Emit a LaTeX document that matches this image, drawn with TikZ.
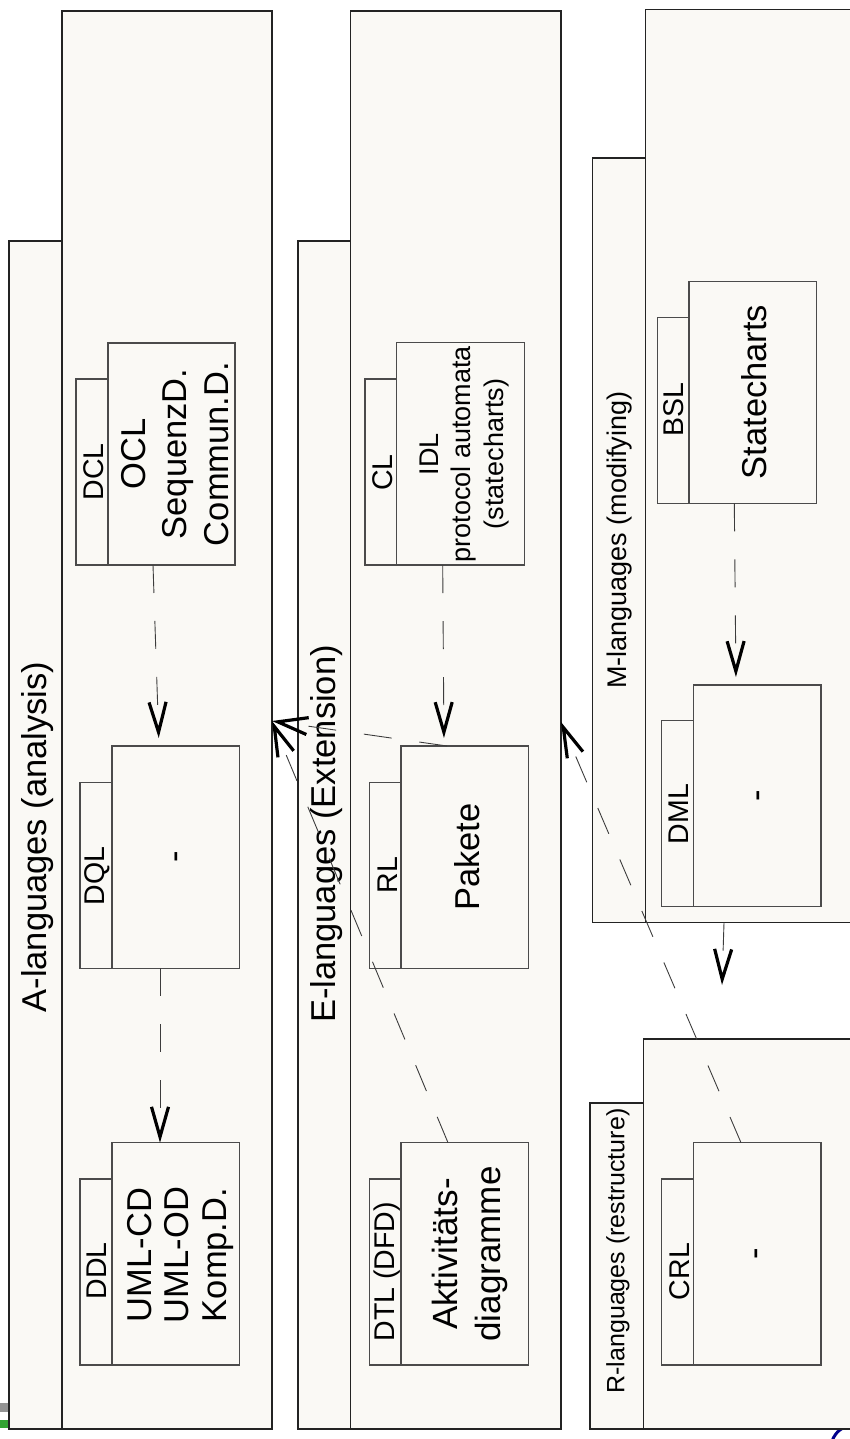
\documentclass[tikz,border=0pt]{standalone}
\usepackage{fontspec}
\setmainfont{Liberation Sans}
\usetikzlibrary{arrows.meta,calc}
\definecolor{pfill}{RGB}{250,249,245}
\definecolor{pline}{RGB}{35,35,35}
\definecolor{bline}{RGB}{75,75,75}
\definecolor{dline}{RGB}{60,60,60}
\begin{document}
\begin{tikzpicture}[x=1pt,y=-1pt,
  pkg/.style={draw=pline, fill=pfill, line width=1.3pt, inner sep=0pt, outer sep=0pt, anchor=north west},
  bx/.style={draw=bline, fill=pfill, line width=1.1pt, inner sep=0pt, outer sep=0pt, anchor=north west},
  ttl/.style={rotate=90, inner sep=0pt, font=\fontsize{34.5}{40}\selectfont},
  tl/.style={rotate=90, inner sep=0pt, font=\fontsize{28.5}{32}\selectfont},
  ct/.style={rotate=90, inner sep=0pt, align=center, font=\fontsize{34.5}{40}\selectfont},
  dep/.style={draw=dline, line width=0.9pt, dash pattern=on 28pt off 28pt,
    -{Straight Barb[length=30pt,width=17pt,line width=3.2pt,color=black]}}
]
\path[use as bounding box] (0,0) rectangle (850,1439);
\clip (0,0) rectangle (850,1439);

% small marks at the corners
\fill[gray!85] (0,1403) rectangle (8,1412);
\fill[green!55!black!80] (0,1420) rectangle (8,1428);
\draw[blue!55!black, line width=3pt] (832,1441) .. controls (836,1431) and (842,1427) .. (852,1425);

% Package A
\node[pkg, minimum width=53pt, minimum height=1188pt] (atab) at (9,241) {};
\node[pkg, minimum width=210pt, minimum height=1418pt] (abody) at (62,11) {};
\node[ttl] (atitle) at (38,837) {A-languages (analysis)};

% Package E
\node[pkg, minimum width=52.7pt, minimum height=1188pt] (etab) at (298,241) {};
\node[pkg, minimum width=210.3pt, minimum height=1418pt] (ebody) at (350.7,11) {};
\node[ttl] (etitle) at (327,834) {E-languages (Extension)};

% Package M
\node[pkg, minimum width=53pt, minimum height=764.7pt] (mtab) at (592.3,158) {};
\node[pkg, minimum width=260pt, minimum height=913.4pt] (mbody) at (645.3,9.3) {};
\node[ttl, font=\fontsize{27}{32}\selectfont] (mtitle) at (620,540) {M-languages (modifying)};

% Package R
\node[pkg, minimum width=53.3pt, minimum height=326pt] (rtab) at (590,1103) {};
\node[pkg, minimum width=260pt, minimum height=390pt] (rbody) at (643.3,1039) {};
\node[ttl, font=\fontsize{25}{30}\selectfont] (rtitle) at (618,1251) {R-languages (restructure)};

% A elements
\node[bx, minimum width=32pt, minimum height=186pt] (dclt) at (76,379) {};
\node[bx, minimum width=127pt, minimum height=222pt] (dclm) at (108,343) {};
\node[tl] (dcll) at (94,472) {DCL};
\node[ct, font=\fontsize{34.5}{41.5}\selectfont] (dclc) at (175,454) {OCL\\SequenzD.\\Commun.D.};

\node[bx, minimum width=32pt, minimum height=186pt] (dqlt) at (80,782.3) {};
\node[bx, minimum width=127.3pt, minimum height=222.3pt] (dqlm) at (112,746) {};
\node[tl] (dqll) at (97,876) {DQL};
\node[ct] (dqlc) at (180.5,857) {-};

\node[bx, minimum width=32pt, minimum height=186pt] (ddlt) at (80,1179) {};
\node[bx, minimum width=127.3pt, minimum height=222.3pt] (ddlm) at (112,1142.7) {};
\node[tl] (ddll) at (97,1271) {DDL};
\node[ct, font=\fontsize{34.5}{37.5}\selectfont] (ddlc) at (180.5,1255) {UML-CD\\UML-OD\\Komp.D.};

% E elements
\node[bx, minimum width=31.7pt, minimum height=186pt] (clt) at (365,379) {};
\node[bx, minimum width=127.6pt, minimum height=222.3pt] (clm) at (396.7,342.7) {};
\node[tl] (cll) at (383,472.5) {CL};
\node[ct, font=\fontsize{27}{32.5}\selectfont] (clc) at (464,454) {IDL\\protocol automata\\(statecharts)};

\node[bx, minimum width=31.7pt, minimum height=186pt] (rlt) at (369.3,782.3) {};
\node[bx, minimum width=127.7pt, minimum height=222.3pt] (rlm) at (401,746) {};
\node[tl] (rll) at (387.5,875) {RL};
\node[ct] (rlc) at (467.5,857) {Pakete};

\node[bx, minimum width=31.7pt, minimum height=186pt] (dtlt) at (369.3,1179) {};
\node[bx, minimum width=127.7pt, minimum height=222.3pt] (dtlm) at (401,1142.7) {};
\node[tl] (dtll) at (387,1271.7) {DTL (DFD)};
\node[ct, font=\fontsize{35}{43}\selectfont] (dtlc) at (470,1254) {Aktivitäts-\\diagramme};

% M elements
\node[bx, minimum width=31.7pt, minimum height=185.6pt] (bslt) at (657.3,317.7) {};
\node[bx, minimum width=127.7pt, minimum height=221.6pt] (bslm) at (689,281.7) {};
\node[tl] (bsll) at (674,410) {BSL};
\node[ct] (bslc) at (754,392) {Statecharts};

\node[bx, minimum width=31.6pt, minimum height=186pt] (dmlt) at (661.7,720.7) {};
\node[bx, minimum width=127.7pt, minimum height=221.7pt] (dmlm) at (693.3,685) {};
\node[tl] (dmll) at (679,814) {DML};
\node[ct] (dmlc) at (762,796) {-};

% R elements
\node[bx, minimum width=31.6pt, minimum height=186pt] (crlt) at (661.7,1179) {};
\node[bx, minimum width=127.7pt, minimum height=222.3pt] (crlm) at (693.3,1142.7) {};
\node[tl] (crll) at (680,1271.5) {CRL};
\node[ct] (crlc) at (760.5,1254) {-};

\coordinate (mrend) at (722,985);

% connectors
\draw[dep, shorten >=8pt] ([xshift=45pt]dclm.south west) -- ([xshift=47pt]dqlm.north west);
\draw[dep] ([xshift=48pt]dqlm.south west) -- ([xshift=48pt]ddlm.north west);
\draw[dep, shorten >=8pt] ([xshift=46pt]clm.south west) -- ([xshift=43pt]rlm.north west);
\draw[dep, shorten >=8pt] ([xshift=45.3pt]bslm.south west) -- ([xshift=42.7pt]dmlm.north west);
\draw[dep] ([xshift=78.7pt]mbody.south west) -- (mrend);
\draw[dep] ([xshift=46pt]rlm.north west) -- ([yshift=-710pt]abody.north east);
\draw[dep] ([xshift=47pt]dtlm.north west) -- ([yshift=-710pt]abody.north east);
\draw[dep] ([xshift=47.7pt]crlm.north west) -- ([yshift=-711pt]ebody.north east);
\end{tikzpicture}
\end{document}
